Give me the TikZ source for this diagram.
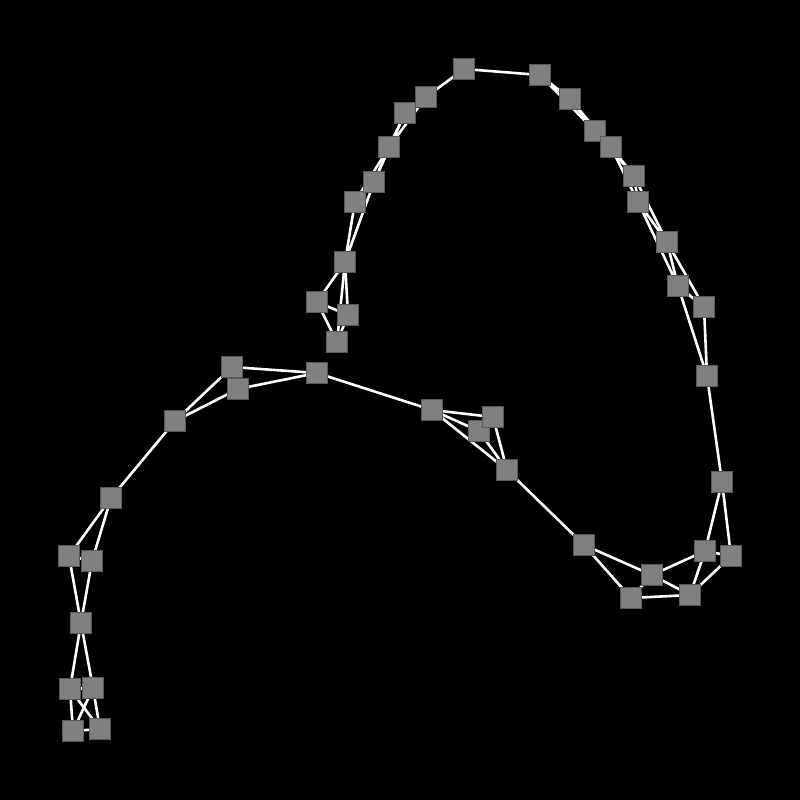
\documentclass[tikz,border=0pt]{standalone}
\usepackage{tikz}
\pgfdeclarelayer{background}
\pgfsetlayers{background,main}

\begin{document}
\begin{tikzpicture}
[x=1pt,y=-1pt,
  nodeDecorate/.style={shape=rectangle,minimum size=21pt,inner sep=0pt,fill=gray,draw=black!65,line width=0.8pt},%
  lineDecorate/.style={-,white,line width=2.6pt}]
%% nodes or vertices
\foreach \nodename/\x/\y in {1/337/342, 2/348/315, 3/317/302, 4/345/262, 5/355/202,
  6/374/182, 7/389/147, 8/405/113, 9/426/97, 10/464/69, 11/540/75, 12/570/99,
  13/595/131, 14/611/147, 15/634/176, 16/638/202, 17/667/242, 18/678/286,
  19/704/307, 20/707/376, 21/722/482, 22/731/556, 23/705/551, 24/690/595,
  25/652/575, 26/631/598, 27/584/545, 28/507/470, 29/479/431, 30/493/417,
  31/432/410, 32/317/373, 33/232/367, 34/238/389, 35/175/421, 36/111/498,
  37/69/556, 38/92/561, 39/81/623, 40/70/689, 41/93/688, 42/73/731, 43/100/729}
{
  \node (\nodename) at (\x,\y) [nodeDecorate] {};
}
%% edges or lines
\begin{pgfonlayer}{background}
\fill[black] (0,0) rectangle (800,800);
\path
\foreach \startnode/\endnode in {1/2, 1/3, 1/4, 2/3, 2/4, 3/4, 4/5, 4/6, 5/6, 5/7,
  6/7, 6/8, 7/8, 7/9, 8/9, 9/10, 10/11, 11/12, 11/13, 12/13, 12/14, 13/14, 13/15,
  14/15, 14/16, 15/16, 15/17, 16/17, 16/18, 17/18, 17/19, 18/19, 18/20, 19/20,
  20/21, 21/22, 21/23, 22/23, 22/24, 23/24, 23/25, 24/25, 24/26, 25/26, 25/27,
  26/27, 27/28, 28/29, 28/30, 28/31, 29/30, 29/31, 30/31, 31/32, 32/33, 32/34,
  33/34, 33/35, 34/35, 35/36, 36/37, 36/38, 37/38, 37/39, 38/39, 39/40, 39/41,
  40/41, 40/42, 40/43, 41/42, 41/43, 42/43} {
  (\startnode.center) edge[lineDecorate] (\endnode.center)
};
\end{pgfonlayer}
\end{tikzpicture}
\end{document}
